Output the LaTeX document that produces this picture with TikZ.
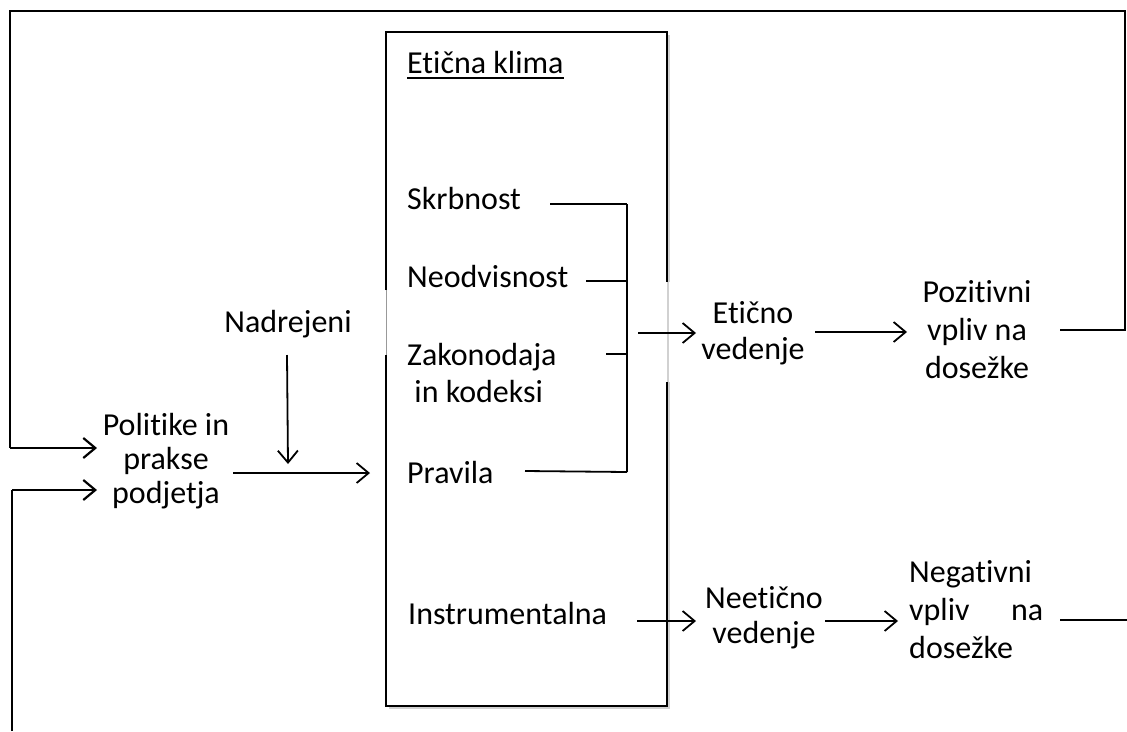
\documentclass[tikz,border=0pt]{standalone}
\usepackage{fontspec}
\setmainfont{Carlito}[Ligatures={NoCommon}]
\usetikzlibrary{arrows.meta}
\newcommand\mlines[3]{{\fontsize{32}{#1}\selectfont\begin{tabular}[t]{@{}#2@{}}#3\end{tabular}}}
\begin{document}
\begin{tikzpicture}[x=1pt,y=-1pt,
  loopln/.style={line width=2.8pt},
  arr/.style={line width=1.8pt,-{Straight Barb[length=12pt,width=20pt]}},
  plainln/.style={line width=1.8pt},
  brk/.style={line width=2.4pt},
  lbl/.style={inner sep=0pt, font=\fontsize{32}{36}\selectfont},
  boxln/.style={line width=2.4pt},
]
\useasboundingbox (0,0) rectangle (1127,731);

% main box shadow and border
\fill[black!18] (389,35) rectangle (670,709);
\fill[white] (386,32) rectangle (667,706);
\draw[boxln] (386,290) -- (386,32) -- (667,32) -- (667,282);
\draw[boxln] (667,382) -- (667,706) -- (386,706) -- (386,355);
\draw[black!40, line width=0.7pt] (386,290) -- (386,355);
\fill[white] (669,282) rectangle (672,382);

% labels
\node[lbl, anchor=base west] (ek) at (407,73) {Etična klima};
\draw[line width=2pt] ([yshift=-5pt]ek.base west) -- ([yshift=-5pt]ek.base east);
\node[lbl, anchor=base west] (sk) at (407,209) {Skrbnost};
\node[lbl, anchor=base west] (ne) at (407,287) {Neodvisnost};
\node[lbl, anchor=base west] (za) at (407,365) {\mlines{37}{l}{Zakonodaja\\ \ in kodeksi}};
\node[lbl, anchor=base west] (pr) at (407,483) {Pravila};
\node[lbl, anchor=base west] (in) at (408,624) {Instrumentalna};
\node[lbl, anchor=base] (nad) at (288,332) {Nadrejeni};
\node[lbl, anchor=base] (pol) at (166,435) {\mlines{34}{c}{Politike in\\prakse\\podjetja}};
\node[lbl, anchor=base] (etv) at (753,323) {\mlines{36}{c}{Etično\\vedenje}};
\node[lbl, anchor=base] (poz) at (977,302) {\mlines{38}{c}{Pozitivni\\vpliv na\\dosežke}};
\node[lbl, anchor=base] (nev) at (764,608) {\mlines{35}{c}{Neetično\\vedenje}};
\node[lbl, anchor=base west] (neg) at (909,582) {\mlines{38}{l}{Negativni\\\hbox to 134pt{vpliv\hfill na}\\dosežke}};

% coordinates
\coordinate (skE) at (550,204);
\coordinate (neE) at (586,281);
\coordinate (zaE) at (606,354);
\coordinate (prE) at (525,471);
\coordinate (bT) at (627,204);
\coordinate (bN) at (627,281);
\coordinate (bZ) at (627,354);
\coordinate (bB) at (627,472);
\coordinate (eA) at (638,333);
\coordinate (eT) at (696,333);
\coordinate (eB) at (815,332);
\coordinate (pT) at (907,332);
\coordinate (pE) at (1060,330);
\coordinate (tr) at (1125,330);
\coordinate (trT) at (1125,11);
\coordinate (tlT) at (10,11);
\coordinate (tlB) at (10,448);
\coordinate (polT) at (97,448);
\coordinate (blB) at (12,731);
\coordinate (blT) at (12,490);
\coordinate (polB) at (97,490);
\coordinate (nadS) at (287,355);
\coordinate (nadT) at (288,464);
\coordinate (polE) at (233,473);
\coordinate (boxIn) at (370,473);
\coordinate (inE) at (637,621);
\coordinate (nevW) at (696,621);
\coordinate (nevE) at (825,621);
\coordinate (negW) at (898,621);
\coordinate (negE) at (1060,620);
\coordinate (negR) at (1127,620);

% bracket
\draw[brk] (skE) -- (bT);
\draw[brk] (neE) -- (bN);
\draw[plainln] (zaE) -- (bZ);
\draw[plainln] (prE) -- (bB);
\draw[plainln] (bT) -- (bB);

% arrows
\draw[arr] (eA) -- (eT);
\draw[arr] (eB) -- (pT);
\draw[arr] (inE) -- (nevW);
\draw[arr] (nevE) -- (negW);
\draw[arr] (nadS) -- (nadT);
\draw[arr] (polE) -- (boxIn);

% feedback loops
\draw[loopln] (pE) -- (tr) -- (trT) -- (tlT) -- (tlB);
\draw[arr, line width=2.2pt] (tlB) -- (polT);
\draw[loopln] (blB) -- (blT);
\draw[arr, line width=2.2pt] (blT) -- (polB);
\draw[loopln] (negE) -- (negR);
\end{tikzpicture}
\end{document}
